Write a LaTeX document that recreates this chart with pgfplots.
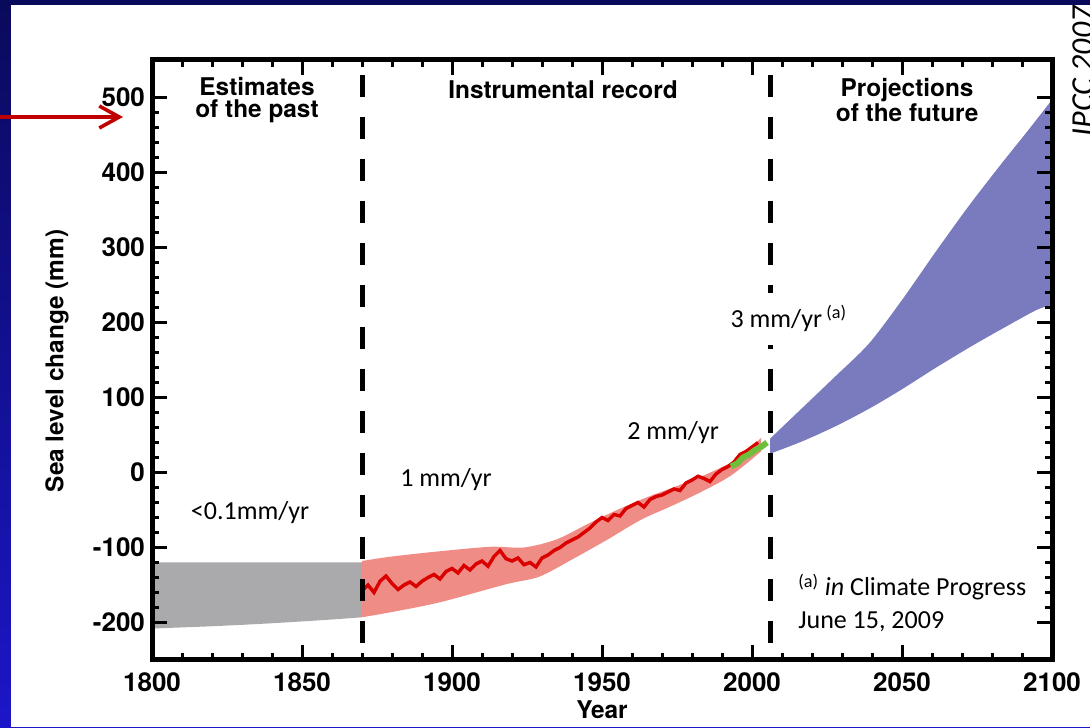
\documentclass[border=0pt]{standalone}
\usepackage{fontspec}
\setmainfont{TeX Gyre Heros}
\newfontfamily\calib{Carlito}
\usepackage{pgfplots}
\pgfplotsset{compat=1.18}
\usepgfplotslibrary{fillbetween}
\usetikzlibrary{arrows.meta}

\definecolor{navy}{RGB}{10,10,92}
\definecolor{bgblue}{RGB}{28,22,200}
\definecolor{greyband}{RGB}{170,170,172}
\definecolor{redband}{RGB}{240,140,134}
\definecolor{redline}{RGB}{218,0,0}
\definecolor{satgreen}{RGB}{110,190,60}
\definecolor{projblue}{RGB}{122,122,190}
\definecolor{arrowred}{RGB}{192,0,0}

\begin{document}
\begin{tikzpicture}
\shade[top color=navy, bottom color=bgblue] (0pt,0pt) rectangle (545pt,363.5pt);
\fill[white] (5.5pt,0pt) rectangle (545pt,361pt);

\begin{axis}[
  at={(76pt,33.5pt)}, anchor=south west,
  scale only axis, width=450pt, height=300pt,
  xmin=1800, xmax=2100, ymin=-250, ymax=550,
  xtick={1800,1850,...,2100}, ytick={-200,-100,...,500},
  minor x tick num=4, minor y tick num=4,
  tick align=inside,
  major tick length=7.5pt, minor tick length=3.5pt,
  tick style={black, line width=1.5pt},
  axis line style={line width=2.5pt},
  axis on top,
  /pgf/number format/1000 sep={},
  /pgf/number format/assume math mode=true,
  tick label style={font=\bfseries\fontsize{13}{13}\selectfont},
  xticklabel style={yshift=-3pt},
  fill between/on layer=main,
]
% estimates of the past (grey band)
\addplot[name path=gtop, draw=none] coordinates {(1800,-120)(1870,-120)};
\addplot[name path=gbot, draw=none, smooth] coordinates {(1800,-208)(1820,-205)(1840,-201)(1860,-196)(1870,-193)};
\addplot[fill=greyband, draw=none] fill between[of=gtop and gbot];

% instrumental record: uncertainty band
\addplot[name path=rtop, draw=none, smooth, tension=0.5] coordinates {
  (1870,-118)(1880,-112)(1896,-105)(1913,-99)(1924,-100)(1935,-89)(1946,-67)
  (1955,-50)(1965,-33)(1975,-18)(1985,-2)(1995,18)(2003,46)};
\addplot[name path=rbot, draw=none, smooth, tension=0.5] coordinates {
  (1870,-193)(1880,-186)(1896,-173)(1918,-149)(1929,-139)(1940,-116)(1952,-89)
  (1963,-63)(1973,-45)(1983,-26)(1993,-4)(2003,28)};
\addplot[fill=redband, draw=none] fill between[of=rtop and rbot];

% tide gauge record
\addplot[redline, line width=1.7pt] coordinates {
  (1870,-158)(1872,-150)(1874,-160)(1876,-145)(1878,-138)(1880,-148)(1882,-156)
  (1884,-150)(1886,-146)(1888,-152)(1890,-145)(1892,-140)(1894,-136)(1896,-142)
  (1898,-132)(1900,-128)(1902,-134)(1904,-124)(1906,-130)(1908,-122)(1910,-118)
  (1912,-125)(1914,-112)(1916,-104)(1918,-115)(1920,-118)(1922,-114)(1924,-123)
  (1926,-120)(1928,-126)(1930,-114)(1932,-110)(1934,-104)(1936,-100)(1938,-94)
  (1940,-90)(1942,-86)(1944,-80)(1946,-74)(1948,-66)(1950,-60)(1952,-64)
  (1954,-56)(1956,-58)(1958,-48)(1960,-44)(1962,-40)(1964,-46)(1966,-36)
  (1968,-32)(1970,-30)(1972,-26)(1974,-22)(1976,-24)(1978,-14)(1980,-10)
  (1982,-5)(1984,-8)(1986,-12)(1988,-2)(1990,4)(1992,8)(1994,14)(1996,24)
  (1998,28)(2000,34)(2002,40)};

% satellite altimetry
\addplot[satgreen, line width=3pt] coordinates {
  (1993,8)(1995,12)(1997,20)(1999,24)(2001,30)(2003,34)(2005,40)};

% projections of the future
\addplot[name path=ptop, draw=none, smooth] coordinates {
  (2006,45)(2017,87)(2028,129)(2039,172)(2050,230)(2061,293)(2072,354)
  (2083,411)(2092,456)(2100,497)};
\addplot[name path=pbot, draw=none, smooth] coordinates {
  (2006,25)(2017,42)(2028,62)(2039,85)(2050,111)(2061,139)(2073,168)(2084,193)
  (2095,217)(2100,223)};
\addplot[fill=projblue, draw=none] fill between[of=ptop and pbot];

% period dividers
\addplot[black, line width=2.5pt, dash pattern=on 11pt off 10pt, dash phase=13.5pt]
  coordinates {(1870,550)(1870,-250)};
\addplot[black, line width=2.5pt, dash pattern=on 11pt off 10pt, dash phase=13.5pt]
  coordinates {(2006,550)(2006,-250)};

\begin{scope}[font=\bfseries\fontsize{12.2}{11}\selectfont, align=center]
\node at (axis cs:1835,497) {Estimates\\of the past};
\node at (axis cs:1937,511) {Instrumental record};
\node at (axis cs:2051.7,497) {Projections\\of the future};
\end{scope}

\begin{scope}[font=\calib\fontsize{13}{16.5}\selectfont]
\node at (axis cs:1832.7,-53) {<0.1mm/yr};
\node at (axis cs:1898,-9) {1 mm/yr};
\node at (axis cs:1973.7,53) {2 mm/yr};
\node[fill=white, minimum width=79pt, minimum height=26pt] at (axis cs:2012.3,205)
  {3 mm/yr\,\textsuperscript{(a)}};
\node[anchor=west, align=left, inner sep=0pt] at (axis cs:2015.3,-174)
  {\textsuperscript{(a)} \textit{in} Climate Progress\\June 15, 2009};
\end{scope}
\end{axis}

\begin{scope}[x=0.5pt, y=-0.5pt, shift={(0pt,363.5pt)}]
\node[rotate=90, font=\bfseries\fontsize{12.2}{12.2}\selectfont] at (57,361) {Sea level change (mm)};
\node[font=\bfseries\fontsize{12.2}{12.2}\selectfont] at (602,710) {Year};
\draw[arrowred, line width=1.8pt, -{Straight Barb[length=10pt,width=11pt]}] (0,117) -- (123,117);
\node[rotate=90, anchor=base west, inner sep=0pt, font=\calib\itshape\fontsize{16}{16}\selectfont]
  at (1093,137) {IPCC 2007};
\end{scope}

\pgfresetboundingbox
\path[use as bounding box] (0pt,0pt) rectangle (545pt,363.5pt);
\end{tikzpicture}
\end{document}
